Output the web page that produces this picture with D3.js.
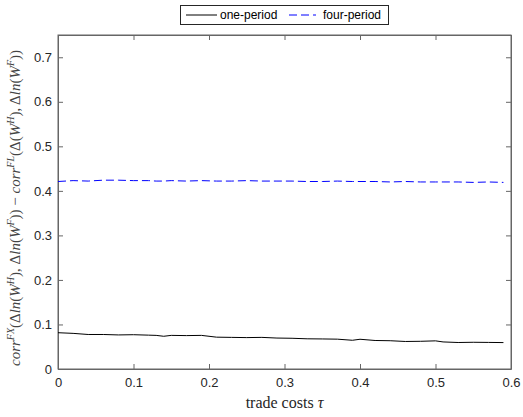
<!DOCTYPE html>
<html>
<head>
<meta charset="utf-8">
<script src="https://cdn.jsdelivr.net/npm/d3@7"></script>
<style>
body { margin: 0; background: #fff; }
svg text { font-family: "Liberation Sans", Arial, sans-serif; }
</style>
</head>
<body>
<div id="chart"></div>
<script>
// trade costs grid and the two series
var tau = [0, 0.02, 0.04, 0.06, 0.08, 0.10, 0.12, 0.13, 0.14, 0.15, 0.17, 0.19, 0.21, 0.23, 0.25, 0.27,
           0.29, 0.31, 0.33, 0.35, 0.37, 0.39, 0.40, 0.42, 0.44, 0.46, 0.48, 0.50, 0.51, 0.53, 0.55, 0.57, 0.59];
var onePeriod = [0.0815, 0.080, 0.0775, 0.0775, 0.0765, 0.0770, 0.0760, 0.0755, 0.0735, 0.0755, 0.0750, 0.0755,
                 0.0715, 0.0710, 0.0705, 0.0710, 0.0695, 0.0690, 0.0678, 0.0675, 0.0670, 0.0645, 0.0668,
                 0.0640, 0.0635, 0.0618, 0.0622, 0.0632, 0.0608, 0.0595, 0.0600, 0.0597, 0.0593];
var fourPeriod = [0.421, 0.423, 0.422, 0.424, 0.424, 0.423, 0.423, 0.422, 0.422, 0.423, 0.422, 0.423,
                  0.422, 0.422, 0.423, 0.422, 0.422, 0.422, 0.421, 0.421, 0.422, 0.421, 0.421,
                  0.421, 0.420, 0.421, 0.420, 0.420, 0.420, 0.420, 0.419, 0.420, 0.419];
var xTicks = [0, 0.1, 0.2, 0.3, 0.4, 0.5, 0.6];
var yTicks = [0, 0.1, 0.2, 0.3, 0.4, 0.5, 0.6, 0.7];
var seriesNames = ["one-period", "four-period"];

var width = 523, height = 417;
var plotLeft = 58, plotRight = 511, plotTop = 35, plotBottom = 369;

var svg = d3.select("#chart").append("svg")
  .attr("width", width)
  .attr("height", height);

var x = d3.scaleLinear().domain([0, 0.6]).range([plotLeft, plotRight]);
var y = d3.scaleLinear().domain([0, 0.75]).range([plotBottom, plotTop]);

var axisColor = "#666";

// frame
svg.append("rect")
  .attr("x", plotLeft).attr("y", plotTop)
  .attr("width", plotRight - plotLeft).attr("height", plotBottom - plotTop)
  .attr("fill", "none").attr("stroke", axisColor).attr("stroke-width", 1);

var fmt = function(d) { return d === 0 ? "0" : d3.format(".1f")(d); };

// axes, ticks inward
var xAxis = svg.append("g").attr("transform", "translate(0," + plotBottom + ")")
  .call(d3.axisBottom(x).tickValues(xTicks).tickSizeInner(-5).tickSizeOuter(0).tickPadding(9).tickFormat(fmt));
var xTop = svg.append("g").attr("transform", "translate(0," + plotTop + ")")
  .call(d3.axisTop(x).tickValues(xTicks).tickSizeInner(-5).tickSizeOuter(0).tickFormat(""));
var yAxis = svg.append("g").attr("transform", "translate(" + plotLeft + ",0)")
  .call(d3.axisLeft(y).tickValues(yTicks).tickSizeInner(-5).tickSizeOuter(0).tickPadding(6).tickFormat(fmt));
var yRight = svg.append("g").attr("transform", "translate(" + plotRight + ",0)")
  .call(d3.axisRight(y).tickValues(yTicks).tickSizeInner(-5).tickSizeOuter(0).tickFormat(""));

[xAxis, xTop, yAxis, yRight].forEach(function(g) {
  g.select(".domain").attr("stroke", axisColor);
  g.selectAll(".tick line").attr("stroke", axisColor);
  g.selectAll(".tick text").attr("fill", "#262626")
    .style("font-size", "13px")
    .style("font-family", "'Liberation Sans', Arial, sans-serif");
});

// lines
var line = d3.line()
  .x(function(d) { return x(d[0]); })
  .y(function(d) { return y(d[1]); });

svg.append("path")
  .datum(d3.zip(tau, onePeriod))
  .attr("d", line)
  .attr("fill", "none").attr("stroke", "#000").attr("stroke-width", 1);

svg.append("path")
  .datum(d3.zip(tau, fourPeriod))
  .attr("d", line)
  .attr("fill", "none").attr("stroke", "#0000ff").attr("stroke-width", 1)
  .attr("stroke-dasharray", "8,4");

// legend
var lg = svg.append("g");
lg.append("rect")
  .attr("x", 180.5).attr("y", 5.5).attr("width", 208).attr("height", 19)
  .attr("fill", "#fff").attr("stroke", "#262626").attr("stroke-width", 1);
lg.append("line").attr("x1", 186).attr("x2", 217).attr("y1", 15).attr("y2", 15)
  .attr("stroke", "#000");
lg.append("text").attr("x", 220).attr("y", 19).text(seriesNames[0])
  .style("font-size", "12px").attr("fill", "#000");
lg.append("line").attr("x1", 289).attr("x2", 316).attr("y1", 15).attr("y2", 15)
  .attr("stroke", "#0000ff").attr("stroke-dasharray", "8,4");
lg.append("text").attr("x", 323).attr("y", 19).text(seriesNames[1])
  .style("font-size", "12px").attr("fill", "#000");

// x label
var xl = svg.append("text")
  .attr("x", (plotLeft + plotRight) / 2).attr("y", 408)
  .attr("text-anchor", "middle")
  .style("font-family", "'Liberation Serif', serif")
  .style("font-size", "16px").attr("fill", "#262626");
xl.append("tspan").text("trade costs ");
xl.append("tspan").style("font-style", "italic").text("τ");

// y label (latex-like)
var yl = svg.append("text")
  .attr("transform", "translate(20," + ((plotTop + plotBottom) / 2 + 6) + ") rotate(-90)")
  .attr("text-anchor", "middle")
  .style("font-family", "'Liberation Serif', serif")
  .style("font-size", "15px").attr("fill", "#444");

var parts = [
  ["corr", "i"], ["FX", "sup"], ["(Δ", "n"], ["ln", "i"], ["(", "n"], ["W", "i"], ["H", "sup"],
  ["), Δ", "n"], ["ln", "i"], ["(", "n"], ["W", "i"], ["F", "sup"], ["))", "n"], [" − ", "n"],
  ["corr", "i"], ["FL", "sup"], ["(Δ(", "n"], ["W", "i"], ["H", "sup"], ["), Δ", "n"], ["ln", "i"],
  ["(", "n"], ["W", "i"], ["F", "sup"], ["))", "n"]
];
var prevSup = false;
parts.forEach(function(p) {
  var t = yl.append("tspan").text(p[0]);
  if (p[1] === "i") t.style("font-style", "italic");
  if (p[1] === "sup") {
    t.style("font-style", "italic").style("font-size", "10px").attr("dy", -6);
    prevSup = true;
  } else if (prevSup) {
    t.attr("dy", 6);
    prevSup = false;
  }
});
</script>
</body>
</html>
